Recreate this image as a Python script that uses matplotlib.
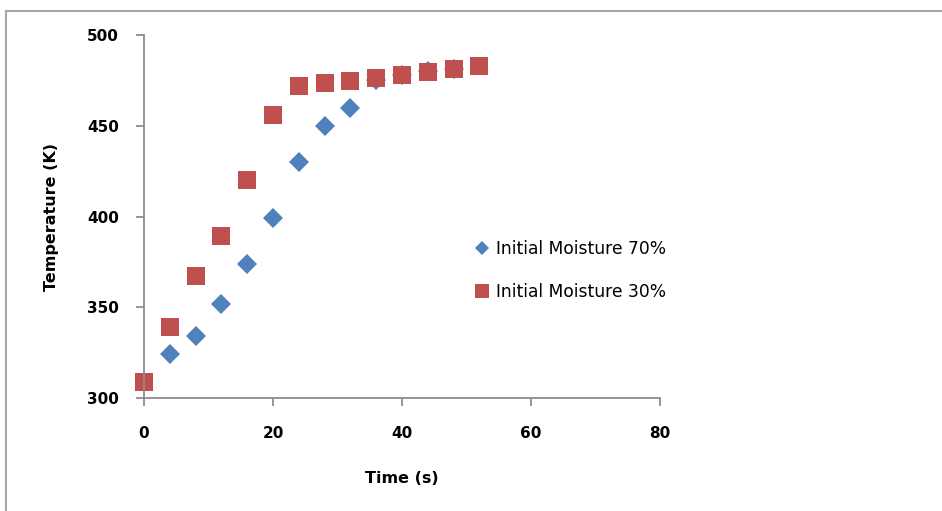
import matplotlib
matplotlib.use("Agg")
import matplotlib.pyplot as plt
from matplotlib.lines import Line2D

# Temperature histories for the two initial moisture contents
time_70 = [4, 8, 12, 16, 20, 24, 28, 32, 36, 40, 44, 48]
temp_70 = [324, 334, 352, 374, 399, 430, 450, 460, 475, 478, 480, 481]

time_30 = [0, 4, 8, 12, 16, 20, 24, 28, 32, 36, 40, 44, 48, 52]
temp_30 = [309, 339, 367, 389, 420, 456, 472, 473.5, 474.5, 476.5, 478, 479.5, 481.5, 483]

x_ticks = [0, 20, 40, 60, 80]
y_ticks = [300, 350, 400, 450, 500]

blue = "#4F81BD"
red = "#C0504D"
axis_grey = "#8c8c8c"

fig = plt.figure(figsize=(9.42, 5.11), dpi=100)
ax = fig.add_axes([0.1529, 0.2211, 0.5478, 0.7104])

ax.plot(time_70, temp_70, linestyle="none", marker="D", markersize=10,
        color=blue, markeredgewidth=0, label="Initial Moisture 70%", clip_on=False)
ax.plot(time_30, temp_30, linestyle="none", marker="s", markersize=13,
        color=red, markeredgewidth=0, label="Initial Moisture 30%", clip_on=False)

ax.set_xlim(0, 80)
ax.set_ylim(300, 500)
ax.set_xticks(x_ticks)
ax.set_yticks(y_ticks)

for side in ["top", "right"]:
    ax.spines[side].set_visible(False)
for side in ["left", "bottom"]:
    ax.spines[side].set_color(axis_grey)
    ax.spines[side].set_linewidth(1.3)

ax.tick_params(axis="y", direction="out", length=6, width=1.3, color=axis_grey,
               pad=12, labelsize=11)
ax.tick_params(axis="x", direction="out", length=6, width=1.3, color=axis_grey,
               pad=14, labelsize=11)
for lbl in ax.get_xticklabels() + ax.get_yticklabels():
    lbl.set_fontweight("bold")

ax.set_xlabel("Time (s)", fontsize=11.5, fontweight="bold", labelpad=22)
ax.set_ylabel("Temperature (K)", fontsize=11.5, fontweight="bold", labelpad=20)

ax.legend(loc="center left", bbox_to_anchor=(0.497, 0.470),
          bbox_transform=fig.transFigure, frameon=False, fontsize=12.3,
          handlelength=0.8, handletextpad=0.4, labelspacing=1.45,
          borderaxespad=0, markerscale=0.75)

# outer chart border (left and top edges)
fig.add_artist(Line2D([0.0069, 0.0069], [0.9775, 0.0], color="#a6a6a6", lw=1.5))
fig.add_artist(Line2D([0.0069, 1.0], [0.9775, 0.9775], color="#a6a6a6", lw=1.5))

fig.savefig("out.png", dpi=100)
